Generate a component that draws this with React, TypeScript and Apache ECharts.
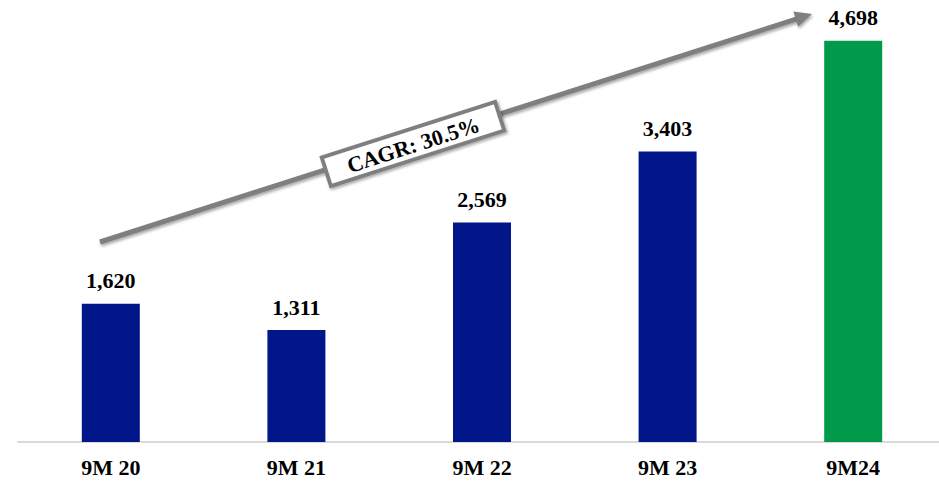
import React, { useEffect, useRef } from "react";
import * as echarts from "echarts";

const categories = ["9M 20", "9M 21", "9M 22", "9M 23", "9M24"];
const values = [1620, 1311, 2569, 3403, 4698];
const barColors = ["#011689", "#011689", "#011689", "#011689", "#009A4A"];
const cagrText = "CAGR: 30.5%";

const FONT = "'Liberation Serif', 'Times New Roman', serif";

export default function App() {
  const ref = useRef<HTMLDivElement>(null);

  useEffect(() => {
    if (!ref.current) return;
    const chart = echarts.init(ref.current, null, { renderer: "svg" });

    // growth arrow geometry
    const x1 = 100, y1 = 242, tipX = 812, tipY = 14;
    const dx = tipX - x1, dy = tipY - y1;
    const len = Math.sqrt(dx * dx + dy * dy);
    const ux = dx / len, uy = dy / len;
    const headLen = 17, headHalf = 8;
    const bx = tipX - headLen * ux, by = tipY - headLen * uy;
    const nx = -uy, ny = ux;
    const angle = Math.atan2(-dy, dx);
    const arrowColor = "#7f7f7f";
    const shadow = { shadowBlur: 3, shadowColor: "rgba(0,0,0,0.35)", shadowOffsetX: 1, shadowOffsetY: 2 };

    chart.setOption({
      animation: false,
      grid: { left: 18, right: 0, top: 15, bottom: 42 },
      xAxis: {
        type: "category",
        data: categories,
        axisLine: { lineStyle: { color: "#d9d9d9", width: 2 } },
        axisTick: { show: false },
        axisLabel: {
          color: "#000",
          fontFamily: FONT,
          fontWeight: "bold",
          fontSize: 22,
          margin: 14,
        },
      },
      yAxis: {
        type: "value",
        min: 0,
        max: 5000,
        show: false,
        splitLine: { show: false },
      },
      series: [
        {
          type: "bar",
          barWidth: 58,
          data: values.map((v, i) => ({ value: v, itemStyle: { color: barColors[i] } })),
          label: {
            show: true,
            position: "top",
            distance: 12,
            color: "#000",
            fontFamily: FONT,
            fontWeight: "bold",
            fontSize: 22,
            formatter: (p: any) => Number(p.value).toLocaleString("en-US"),
          },
        },
      ],
      graphic: [
        {
          type: "line",
          shape: { x1, y1, x2: bx + ux * 2, y2: by + uy * 2 },
          style: { stroke: arrowColor, lineWidth: 5, ...shadow },
          z: 10,
        },
        {
          type: "polygon",
          shape: {
            points: [
              [tipX, tipY],
              [bx + nx * headHalf, by + ny * headHalf],
              [bx - nx * headHalf, by - ny * headHalf],
            ],
          },
          style: { fill: arrowColor, ...shadow },
          z: 10,
        },
        {
          type: "group",
          x: 413,
          y: 144,
          rotation: angle,
          z: 11,
          children: [
            {
              type: "rect",
              shape: { x: -91, y: -15, width: 182, height: 30 },
              style: { fill: "#fff", stroke: arrowColor, lineWidth: 4, ...shadow },
              z: 11,
            },
            {
              type: "text",
              x: 0,
              y: 1,
              style: {
                text: cagrText,
                fill: "#000",
                font: `bold 22px ${FONT}`,
                align: "center",
                verticalAlign: "middle",
              },
              z: 12,
            },
          ],
        },
      ],
    });

    return () => chart.dispose();
  }, []);

  return (
    <div style={{ position: "fixed", left: 0, top: 0, width: 939, height: 484, overflow: "hidden", background: "#fff" }}>
      <div ref={ref} style={{ width: 946, height: 484 }} />
    </div>
  );
}
